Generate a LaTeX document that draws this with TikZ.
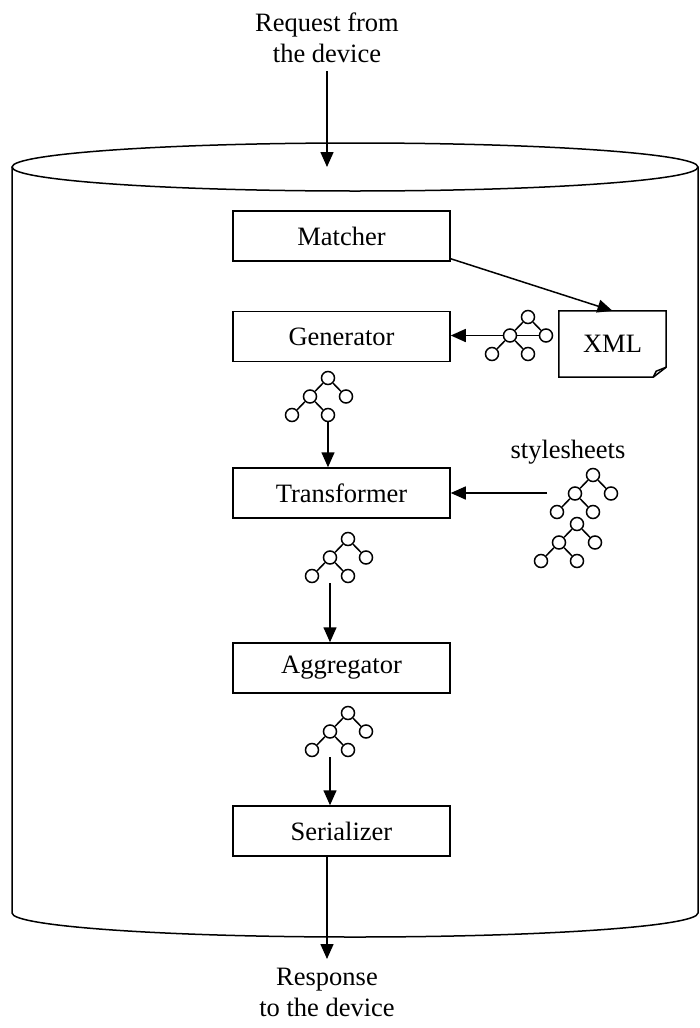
\documentclass[tikz,border=0pt]{standalone}
\usepackage{fontspec}
\setmainfont{Liberation Serif}
\usetikzlibrary{arrows.meta}

\tikzset{
  stage/.style={draw, line width=1.5pt, minimum width=217pt, minimum height=50pt, inner sep=0pt},
  flow/.style={line width=1.5pt, -{Triangle[width=13pt,length=15pt]}},
  leaf/.style={draw, circle, fill=white, line width=1.5pt, minimum size=13pt, inner sep=0pt},
  xmltree/.pic={
    \node[leaf] (-r) at (0,0) {};
    \node[leaf] (-a) at (-18,18.5) {};
    \node[leaf] (-b) at (18,18.5) {};
    \node[leaf] (-c) at (-36,37) {};
    \node[leaf] (-d) at (0,37) {};
    \draw[line width=1.5pt] (-r) -- (-a) (-r) -- (-b) (-a) -- (-c) (-a) -- (-d);
  }
}

\begin{document}
\begin{tikzpicture}[x=1pt, y=-1pt, font=\fontsize{26.5pt}{31pt}\selectfont]
  \useasboundingbox (0,0) rectangle (699,1028);

  % the cylinder
  \draw[line width=1.5pt] (355,167) ellipse [x radius=343pt, y radius=24pt];
  \draw[line width=1.5pt] (12,167) -- (12,913)
    arc [start angle=180, end angle=360, x radius=343pt, y radius=24pt] -- (698,167);
  \coordinate (lid) at (355,167);

  % stages
  \node[stage] (match) at (341.5,236) {Matcher};
  \node[stage] (gen) at (341.5,336.5) {Generator};
  \node[stage] (trans) at (341.5,493) {Transformer};
  \node[stage] (agg) at (341.5,668) {Aggregator};
  \node[stage] (ser) at (341.5,831) {Serializer};

  % in and out
  \node[anchor=south, align=center, inner sep=0pt] (req) at (327,63) {Request from\\the device};
  \node[anchor=north, align=center, inner sep=0pt] (resp) at (327,968) {Response\\to the device};
  \draw[flow] ([yshift=-8pt]req.south) -- (req.south |- lid);
  \draw[flow] (ser.south -| resp) -- ([yshift=9pt]resp.north);

  % xml document
  \node[minimum width=107pt, minimum height=66pt, inner sep=0pt] (xml) at (612.5,344) {XML};
  \draw[line width=1.5pt] (xml.north west) -- (xml.north east) -- ([yshift=10pt]xml.south east)
    -- ([xshift=-13pt]xml.south east) -- (xml.south west) -- cycle;
  \draw[line width=1.5pt] ([xshift=-13pt]xml.south east) -- ([xshift=-10pt,yshift=6pt]xml.south east)
    -- ([yshift=10pt]xml.south east);
  \draw[flow] ([yshift=3pt]match.south east) -- (xml.north);

  % generated tree
  \pic (xt) at (528,317) {xmltree};
  \draw[line width=1.5pt] (xt-a) -- (xt-b);
  \draw[flow] (xt-a.west) -- (xt-a -| gen.east);

  % trees passed down
  \pic (gt) at (328,378) {xmltree};
  \draw[flow] (gt-d) -- (gt-d |- trans.north);
  \pic (tt) at (348,539) {xmltree};
  \draw[flow] (tt-a |- tt-c.south) -- (tt-a |- agg.north);
  \pic (ag) at (348,713) {xmltree};
  \draw[flow] (ag-a |- ag-c.south) -- (ag-a |- ser.north);

  % stylesheets
  \node (sheetlabel) at (568,452) {stylesheets};
  \pic (sa) at (593,475) {xmltree};
  \pic (sb) at (577,524) {xmltree};
  \coordinate (sheets) at (547,493);
  \draw[flow] (sheets) -- (trans.east);
\end{tikzpicture}
\end{document}
